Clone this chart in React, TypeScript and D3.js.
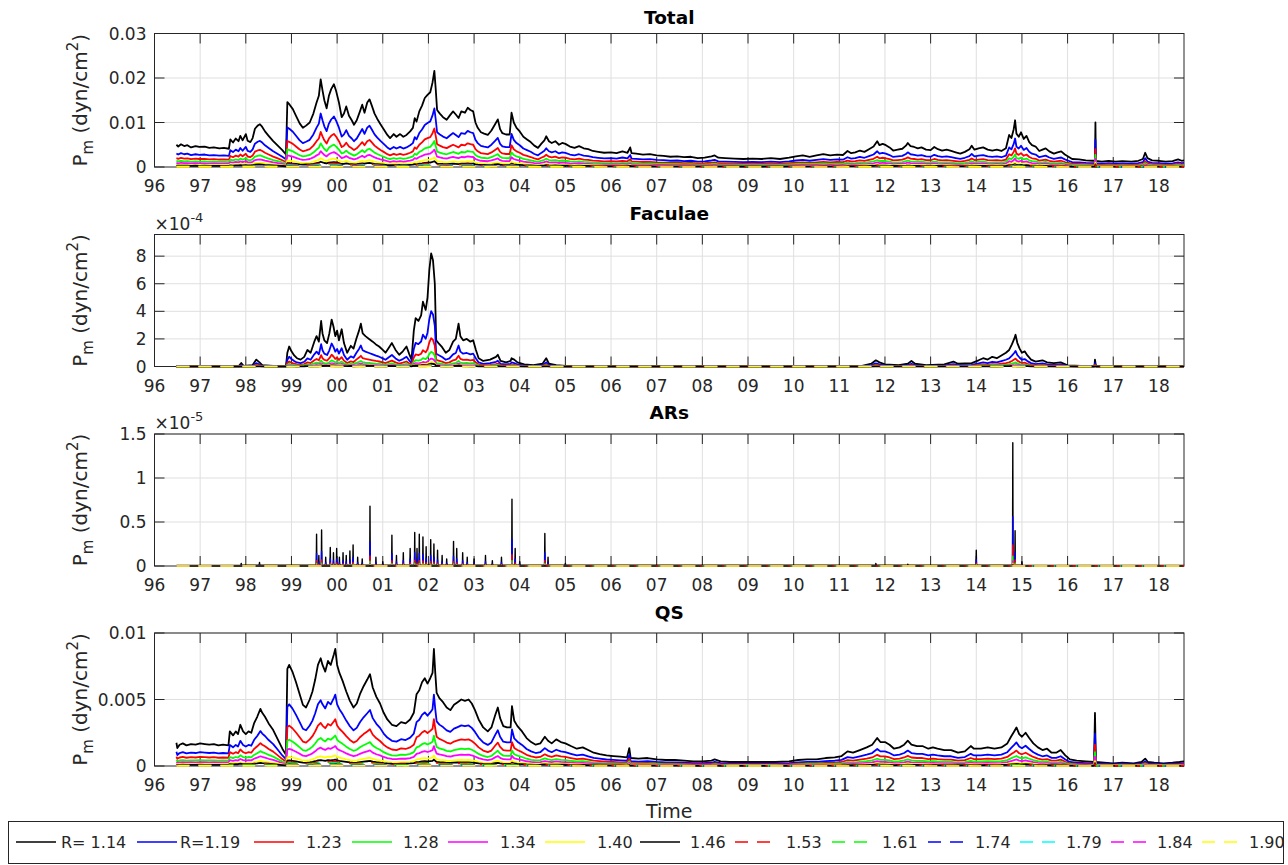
import React from "react";
import * as d3 from "d3";

// ---------------- data ----------------
const YEAR_TICKS = d3.range(1996, 2019);
const YEAR_LABELS = ["96","97","98","99","00","01","02","03","04","05","06","07","08","09","10","11","12","13","14","15","16","17","18"];
const X_DOMAIN: [number, number] = [1996, 2018.55];

const SERIES_LABELS = ["R= 1.14","R=1.19","1.23","1.28","1.34","1.40","1.46","1.53","1.61","1.74","1.79","1.84","1.90"];
const SERIES_COLORS = ["#000000","#0000ff","#ff0000","#00ff00","#ff00ff","#ffff00","#000000","#ff0000","#00ff00","#0000ff","#00ffff","#ff00ff","#ffff00"];
const SERIES_DASHED = [false,false,false,false,false,false,false,true,true,true,true,true,true];

// Ratios of each R-series to the R=1.14 series, read per panel
const TOTAL_RATIOS = [1, 0.61, 0.4, 0.27, 0.18, 0.1, 0.06, 0.045, 0.03, 0.018, 0.012, 0.008, 0.005];
const FACULAE_RATIOS = [1, 0.49, 0.25, 0.13, 0.07, 0.04, 0.025, 0.018, 0.012, 0.007, 0.005, 0.003, 0.002];
const ARS_RATIOS = [1, 0.4, 0.17, 0.08, 0.04, 0.02, 0.012, 0.008, 0.005, 0.003, 0.002, 0.001, 0.001];
const QS_RATIOS = [1, 0.61, 0.4, 0.26, 0.17, 0.09, 0.055, 0.04, 0.028, 0.016, 0.011, 0.007, 0.004];

// R=1.14 series, Total, units of 1e-3 dyn/cm^2
const TOTAL_BASE: [number, number][] = [[1996.48,5.0],[1996.52,4.6],[1996.58,5.1],[1996.65,4.7],[1996.72,4.9],[1996.8,4.4],[1996.9,4.7],[1996.98,4.5],[1997.1,4.6],[1997.2,4.3],[1997.3,4.4],[1997.42,4.2],[1997.52,4.3],[1997.63,4.1],[1997.66,6.2],[1997.72,5.5],[1997.78,6.4],[1997.84,5.8],[1997.88,7.0],[1997.93,6.0],[1998.0,7.4],[1998.04,5.9],[1998.1,5.6],[1998.15,6.5],[1998.2,8.6],[1998.26,9.3],[1998.31,9.6],[1998.36,9.0],[1998.42,8.0],[1998.5,7.0],[1998.6,5.8],[1998.7,4.8],[1998.8,3.8],[1998.88,2.8],[1998.91,14.6],[1998.96,14.0],[1999.03,13.0],[1999.1,11.5],[1999.18,9.8],[1999.25,8.8],[1999.32,9.3],[1999.4,10.0],[1999.48,12.0],[1999.55,14.5],[1999.6,16.0],[1999.64,19.7],[1999.68,17.2],[1999.72,15.0],[1999.77,13.2],[1999.82,16.0],[1999.87,17.5],[1999.93,18.6],[1999.98,17.0],[2000.04,14.5],[2000.1,11.2],[2000.15,12.0],[2000.2,13.6],[2000.26,11.5],[2000.32,10.5],[2000.37,9.5],[2000.43,10.5],[2000.5,12.5],[2000.55,14.0],[2000.6,12.2],[2000.66,14.5],[2000.71,15.2],[2000.76,13.8],[2000.82,12.0],[2000.88,10.8],[2000.95,9.6],[2001.02,8.5],[2001.1,7.2],[2001.16,6.5],[2001.24,7.4],[2001.3,6.8],[2001.38,7.4],[2001.45,6.8],[2001.52,7.2],[2001.6,8.0],[2001.66,8.8],[2001.7,11.0],[2001.74,10.2],[2001.8,12.5],[2001.86,13.8],[2001.92,15.5],[2001.98,16.2],[2002.04,16.8],[2002.09,19.0],[2002.13,21.6],[2002.16,17.5],[2002.19,12.8],[2002.25,12.0],[2002.32,11.2],[2002.4,10.6],[2002.47,11.6],[2002.54,12.5],[2002.6,11.8],[2002.66,11.0],[2002.72,12.5],[2002.8,12.2],[2002.86,13.3],[2002.92,12.8],[2002.98,12.5],[2003.03,10.0],[2003.08,8.8],[2003.15,7.8],[2003.22,7.5],[2003.3,7.2],[2003.38,8.2],[2003.46,9.6],[2003.52,10.7],[2003.57,8.5],[2003.62,7.6],[2003.7,7.3],[2003.78,7.3],[2003.82,12.2],[2003.87,10.0],[2003.93,8.8],[2004.0,8.0],[2004.08,6.8],[2004.16,6.2],[2004.24,5.6],[2004.32,4.8],[2004.4,4.3],[2004.47,5.2],[2004.54,6.0],[2004.58,6.9],[2004.64,5.8],[2004.7,5.4],[2004.78,5.8],[2004.86,5.0],[2004.93,5.4],[2005.0,5.2],[2005.1,4.6],[2005.2,4.3],[2005.3,4.7],[2005.4,4.2],[2005.5,4.0],[2005.6,3.6],[2005.72,3.4],[2005.85,3.2],[2006.0,3.3],[2006.12,3.1],[2006.25,3.5],[2006.36,3.2],[2006.42,4.4],[2006.45,3.1],[2006.55,3.0],[2006.7,2.8],[2006.85,2.9],[2007.0,2.6],[2007.15,2.5],[2007.3,2.3],[2007.45,2.4],[2007.6,2.2],[2007.75,2.3],[2007.9,2.0],[2008.05,2.1],[2008.2,2.4],[2008.27,2.6],[2008.35,2.1],[2008.5,2.0],[2008.7,1.9],[2008.9,1.8],[2009.1,1.9],[2009.3,1.8],[2009.5,2.0],[2009.7,1.8],[2009.9,2.1],[2010.05,2.4],[2010.2,2.6],[2010.35,2.3],[2010.5,2.6],[2010.65,2.9],[2010.8,2.6],[2010.95,2.8],[2011.08,2.7],[2011.18,3.6],[2011.26,3.1],[2011.35,3.3],[2011.45,3.7],[2011.55,3.4],[2011.65,4.0],[2011.75,4.6],[2011.83,5.8],[2011.88,4.9],[2011.95,5.2],[2012.02,4.9],[2012.1,4.4],[2012.18,3.7],[2012.28,3.9],[2012.38,4.1],[2012.46,4.8],[2012.5,5.4],[2012.56,4.7],[2012.64,4.5],[2012.72,4.2],[2012.8,4.4],[2012.9,3.9],[2013.0,3.8],[2013.08,4.5],[2013.16,4.0],[2013.25,3.7],[2013.35,3.9],[2013.45,3.6],[2013.55,3.3],[2013.65,3.0],[2013.75,3.4],[2013.85,4.0],[2013.9,4.8],[2013.96,3.9],[2014.05,4.2],[2014.15,4.4],[2014.25,3.9],[2014.35,3.7],[2014.45,3.9],[2014.55,3.6],[2014.65,4.2],[2014.72,7.2],[2014.77,6.5],[2014.82,8.5],[2014.85,10.5],[2014.88,7.5],[2014.93,6.8],[2014.98,7.8],[2015.04,6.3],[2015.1,7.0],[2015.16,5.6],[2015.22,4.9],[2015.3,4.6],[2015.38,3.6],[2015.45,3.9],[2015.52,4.2],[2015.6,3.5],[2015.7,3.0],[2015.78,3.3],[2015.86,3.5],[2015.94,2.8],[2016.02,2.3],[2016.1,1.8],[2016.25,1.7],[2016.4,1.5],[2016.55,1.4],[2016.6,1.4],[2016.61,10.0],[2016.62,1.4],[2016.75,1.2],[2016.9,1.4],[2017.05,1.2],[2017.2,1.3],[2017.4,1.2],[2017.55,1.4],[2017.65,1.8],[2017.7,3.2],[2017.75,2.0],[2017.85,1.5],[2018.0,1.4],[2018.15,1.2],[2018.3,1.3],[2018.42,1.7],[2018.5,1.4],[2018.55,1.5]];

// R=1.14 series, Faculae, units of 1e-4
const FACULAE_BASE: [number, number][] = [[1996.48,0.02],[1997.0,0.02],[1997.5,0.03],[1997.85,0.05],[1997.9,0.25],[1997.95,0.05],[1998.15,0.1],[1998.23,0.5],[1998.3,0.3],[1998.36,0.1],[1998.6,0.05],[1998.88,0.05],[1998.91,1.0],[1998.95,1.45],[1999.0,1.1],[1999.06,0.8],[1999.12,0.6],[1999.2,0.5],[1999.28,0.7],[1999.35,1.2],[1999.42,1.0],[1999.5,1.8],[1999.55,2.2],[1999.6,1.8],[1999.65,3.3],[1999.68,2.4],[1999.72,1.9],[1999.78,1.7],[1999.83,2.4],[1999.88,3.4],[1999.92,2.9],[1999.96,2.2],[2000.0,2.6],[2000.04,1.9],[2000.1,2.7],[2000.15,1.7],[2000.22,1.0],[2000.3,1.5],[2000.36,1.3],[2000.42,2.0],[2000.48,2.6],[2000.52,3.1],[2000.56,2.4],[2000.62,2.2],[2000.7,2.0],[2000.78,1.8],[2000.85,1.6],[2000.92,1.45],[2001.0,1.2],[2001.06,1.0],[2001.14,1.4],[2001.2,1.7],[2001.28,1.2],[2001.36,0.85],[2001.44,1.1],[2001.52,1.45],[2001.58,0.9],[2001.63,0.5],[2001.68,2.6],[2001.72,3.5],[2001.78,3.3],[2001.84,3.7],[2001.88,4.7],[2001.94,4.1],[2001.98,5.0],[2002.02,7.0],[2002.06,8.2],[2002.1,7.7],[2002.14,6.0],[2002.17,1.9],[2002.22,1.7],[2002.3,1.4],[2002.38,1.0],[2002.46,1.2],[2002.54,1.8],[2002.6,2.0],[2002.66,3.1],[2002.7,2.2],[2002.76,1.9],[2002.84,2.0],[2002.92,1.8],[2002.98,1.9],[2003.04,1.2],[2003.1,0.6],[2003.2,0.4],[2003.35,0.5],[2003.48,0.7],[2003.52,0.85],[2003.58,0.4],[2003.7,0.3],[2003.8,0.4],[2003.82,0.6],[2003.88,0.5],[2003.95,0.3],[2004.1,0.15],[2004.3,0.1],[2004.5,0.2],[2004.58,0.6],[2004.64,0.2],[2004.8,0.1],[2005.0,0.05],[2005.5,0.03],[2006.0,0.03],[2007.0,0.02],[2008.0,0.02],[2009.0,0.02],[2010.0,0.02],[2011.0,0.03],[2011.5,0.05],[2011.7,0.2],[2011.8,0.45],[2011.88,0.3],[2012.0,0.15],[2012.3,0.1],[2012.5,0.2],[2012.58,0.4],[2012.66,0.2],[2012.9,0.1],[2013.3,0.15],[2013.5,0.35],[2013.6,0.2],[2013.9,0.25],[2014.05,0.45],[2014.15,0.6],[2014.25,0.5],[2014.35,0.7],[2014.45,0.6],[2014.55,0.8],[2014.65,1.0],[2014.72,1.2],[2014.78,1.6],[2014.83,2.0],[2014.86,2.3],[2014.9,1.7],[2014.95,1.3],[2015.0,1.0],[2015.06,1.1],[2015.12,0.8],[2015.2,0.5],[2015.3,0.35],[2015.45,0.45],[2015.55,0.3],[2015.7,0.25],[2015.85,0.3],[2016.0,0.08],[2016.3,0.05],[2016.59,0.05],[2016.6,0.5],[2016.62,0.04],[2017.0,0.03],[2018.0,0.02],[2018.55,0.02]];

// R=1.14 series, ARs, spikes in units of 1e-5
const ARS_SPIKE_TIMES = [1997.9,1998.3,1999.55,1999.6,1999.66,1999.75,1999.85,1999.92,1999.99,2000.05,2000.13,2000.2,2000.28,2000.35,2000.45,2000.55,2000.72,2000.85,2001.0,2001.2,2001.3,2001.45,2001.6,2001.7,2001.75,2001.8,2001.88,2001.95,2002.05,2002.12,2002.2,2002.3,2002.4,2002.55,2002.62,2002.75,2002.85,2003.0,2003.25,2003.4,2003.6,2003.83,2003.9,2004.0,2004.55,2004.62,2005.0,2011.8,2012.5,2014.0,2014.8,2014.85,2015.0];
const ARS_SPIKE_VALUES = [0.03,0.04,0.36,0.12,0.41,0.1,0.21,0.15,0.2,0.1,0.15,0.12,0.17,0.24,0.1,0.08,0.68,0.1,0.05,0.35,0.12,0.15,0.2,0.38,0.2,0.36,0.33,0.22,0.3,0.25,0.18,0.12,0.08,0.28,0.2,0.15,0.1,0.08,0.12,0.06,0.1,0.76,0.2,0.05,0.37,0.1,0.03,0.03,0.02,0.18,1.4,0.4,0.05];

// R=1.14 series, QS, units of 1e-3
const QS_BASE: [number, number][] = [[1996.48,1.75],[1996.5,1.35],[1996.55,1.6],[1996.62,1.7],[1996.7,1.55],[1996.8,1.65],[1996.9,1.6],[1997.0,1.7],[1997.1,1.65],[1997.2,1.6],[1997.3,1.65],[1997.4,1.55],[1997.5,1.6],[1997.62,1.55],[1997.65,2.6],[1997.72,2.3],[1997.78,2.6],[1997.83,2.4],[1997.88,3.1],[1997.94,2.6],[1998.0,2.4],[1998.06,2.6],[1998.12,2.5],[1998.18,3.2],[1998.25,3.7],[1998.32,4.3],[1998.36,4.0],[1998.42,3.7],[1998.5,3.2],[1998.6,2.7],[1998.7,2.0],[1998.8,1.3],[1998.88,0.85],[1998.91,7.3],[1998.95,7.6],[1999.02,7.1],[1999.1,6.3],[1999.18,5.4],[1999.25,4.6],[1999.32,4.4],[1999.4,5.0],[1999.46,5.6],[1999.52,6.5],[1999.58,7.6],[1999.64,8.1],[1999.68,7.6],[1999.74,7.1],[1999.8,7.9],[1999.86,7.6],[1999.93,8.4],[1999.96,8.8],[2000.0,7.6],[2000.05,7.0],[2000.12,6.4],[2000.2,5.6],[2000.28,4.9],[2000.36,4.4],[2000.43,4.7],[2000.5,5.4],[2000.58,6.0],[2000.66,6.5],[2000.72,6.9],[2000.78,5.9],[2000.86,5.2],[2000.94,4.7],[2001.02,4.0],[2001.1,3.5],[2001.2,3.1],[2001.3,3.0],[2001.4,3.3],[2001.5,3.2],[2001.6,3.5],[2001.68,4.0],[2001.74,5.4],[2001.8,5.7],[2001.86,6.3],[2001.92,6.6],[2001.98,6.2],[2002.04,6.6],[2002.09,7.0],[2002.12,8.8],[2002.15,7.0],[2002.18,5.5],[2002.24,5.1],[2002.32,4.8],[2002.4,4.4],[2002.48,4.2],[2002.56,4.6],[2002.64,4.8],[2002.72,5.0],[2002.8,4.9],[2002.88,5.0],[2002.95,4.7],[2003.02,4.2],[2003.1,3.5],[2003.2,2.9],[2003.3,2.6],[2003.38,2.9],[2003.46,3.8],[2003.52,4.4],[2003.57,3.6],[2003.64,3.0],[2003.72,2.9],[2003.8,2.9],[2003.83,4.5],[2003.88,3.4],[2003.95,3.0],[2004.05,2.6],[2004.15,2.1],[2004.25,1.8],[2004.35,1.6],[2004.45,1.7],[2004.55,2.2],[2004.62,1.9],[2004.7,1.7],[2004.8,2.0],[2004.9,1.8],[2005.0,1.7],[2005.12,1.5],[2005.25,1.3],[2005.38,1.4],[2005.5,1.2],[2005.62,1.0],[2005.75,0.9],[2005.9,0.8],[2006.05,0.75],[2006.2,0.7],[2006.35,0.65],[2006.4,1.35],[2006.43,0.6],[2006.6,0.55],[2006.8,0.6],[2007.0,0.5],[2007.2,0.45],[2007.4,0.45],[2007.6,0.4],[2007.8,0.35],[2008.0,0.35],[2008.2,0.4],[2008.27,0.5],[2008.4,0.35],[2008.6,0.3],[2008.8,0.3],[2009.0,0.3],[2009.3,0.3],[2009.6,0.3],[2009.9,0.35],[2010.1,0.45],[2010.3,0.5],[2010.5,0.5],[2010.7,0.6],[2010.9,0.65],[2011.05,0.75],[2011.18,1.1],[2011.3,1.0],[2011.45,1.2],[2011.6,1.4],[2011.72,1.6],[2011.83,2.1],[2011.9,1.8],[2012.0,1.8],[2012.1,1.6],[2012.2,1.3],[2012.32,1.4],[2012.42,1.6],[2012.5,1.9],[2012.58,1.6],[2012.7,1.5],[2012.82,1.5],[2012.95,1.3],[2013.05,1.4],[2013.15,1.3],[2013.3,1.2],[2013.45,1.2],[2013.6,1.0],[2013.75,1.1],[2013.88,1.5],[2013.95,1.3],[2014.1,1.3],[2014.25,1.4],[2014.4,1.3],[2014.55,1.4],[2014.68,1.7],[2014.76,2.2],[2014.83,2.6],[2014.88,2.9],[2014.94,2.4],[2015.0,2.2],[2015.08,2.5],[2015.16,2.1],[2015.25,1.7],[2015.35,1.4],[2015.45,1.2],[2015.55,1.3],[2015.65,1.0],[2015.75,1.0],[2015.85,1.2],[2015.95,0.8],[2016.05,0.5],[2016.2,0.4],[2016.4,0.35],[2016.58,0.3],[2016.6,4.0],[2016.62,0.3],[2016.8,0.25],[2017.0,0.2],[2017.2,0.25],[2017.45,0.2],[2017.62,0.3],[2017.7,0.55],[2017.76,0.3],[2017.9,0.25],[2018.1,0.2],[2018.3,0.25],[2018.45,0.3],[2018.55,0.35]];

const TOTAL_TICKS = [0, 10, 20, 30];
const TOTAL_TICK_LABELS = ["0", "0.01", "0.02", "0.03"];
const FACULAE_TICKS = [0, 2, 4, 6, 8];
const FACULAE_TICK_LABELS = ["0", "2", "4", "6", "8"];
const ARS_TICKS = [0, 0.5, 1, 1.5];
const ARS_TICK_LABELS = ["0", "0.5", "1", "1.5"];
const QS_TICKS = [0, 5, 10];
const QS_TICK_LABELS = ["0", "0.005", "0.01"];

// ---------------- build ----------------
function spikesToSeries(times: number[], values: number[]): [number, number][] {
  const out: [number, number][] = [[1996.48, 0.005]];
  times.forEach((t, i) => {
    out.push([t - 0.006, 0.008], [t, values[i]], [t + 0.006, 0.008]);
  });
  out.push([2018.55, 0.005]);
  return out;
}

const PANELS = [
  { title: "Total", base: TOTAL_BASE, ratios: TOTAL_RATIOS, ymax: 30, ticks: TOTAL_TICKS, labels: TOTAL_TICK_LABELS, exp: null, top: 33.5, bottom: 167, titleY: 24 },
  { title: "Faculae", base: FACULAE_BASE, ratios: FACULAE_RATIOS, ymax: 9.57, ticks: FACULAE_TICKS, labels: FACULAE_TICK_LABELS, exp: "-4", top: 234.5, bottom: 366.5, titleY: 220 },
  { title: "ARs", base: spikesToSeries(ARS_SPIKE_TIMES, ARS_SPIKE_VALUES), ratios: ARS_RATIOS, ymax: 1.5, ticks: ARS_TICKS, labels: ARS_TICK_LABELS, exp: "-5", top: 434, bottom: 566, titleY: 419 },
  { title: "QS", base: QS_BASE, ratios: QS_RATIOS, ymax: 10, ticks: QS_TICKS, labels: QS_TICK_LABELS, exp: null, top: 633, bottom: 766, titleY: 619 },
];

const LEFT = 154.5;
const RIGHT = 1184;
const FONT = "'DejaVu Sans', sans-serif";
const TXT = "#262626";
const GRID = "#dfdfdf";
const DASH = "13,9";

const LEGEND_LINE_X = [16, 137, 254, 352, 448, 545, 640, 735, 832, 928, 1020, 1111, 1202];
const LEGEND_TEXT_X = [61, 180, 306, 403, 500, 597, 690, 786, 882, 975, 1066, 1157, 1249];

function Panel({ p, idx }: { p: any; idx: number }) {
  const x = d3.scaleLinear().domain(X_DOMAIN).range([LEFT, RIGHT]);
  const y = d3.scaleLinear().domain([0, p.ymax]).range([p.bottom, p.top]);
  const clipId = `clip${idx}`;
  const mid = (p.top + p.bottom) / 2;
  return (
    <g>
      <defs>
        <clipPath id={clipId}>
          <rect x={LEFT} y={p.top - 1} width={RIGHT - LEFT} height={p.bottom - p.top + 3} />
        </clipPath>
      </defs>
      <rect x={LEFT} y={p.top} width={RIGHT - LEFT} height={p.bottom - p.top} fill="#fff" />
      {/* grid */}
      {YEAR_TICKS.slice(1).map((t) => (
        <line key={"gx" + t} x1={x(t)} x2={x(t)} y1={p.top} y2={p.bottom} stroke={GRID} strokeWidth={1} />
      ))}
      {p.ticks.slice(1).map((t: number) => (
        <line key={"gy" + t} x1={LEFT} x2={RIGHT} y1={y(t)} y2={y(t)} stroke={GRID} strokeWidth={1} />
      ))}
      {/* axes box + ticks (beneath data, like MATLAB Layer 'bottom') */}
      <rect x={LEFT} y={p.top} width={RIGHT - LEFT} height={p.bottom - p.top} fill="none" stroke={TXT} strokeWidth={1} />
      {YEAR_TICKS.map((t) => (
        <g key={"xt" + t}>
          <line x1={x(t)} x2={x(t)} y1={p.bottom} y2={p.bottom - 10} stroke={TXT} />
          <line x1={x(t)} x2={x(t)} y1={p.top} y2={p.top + 10} stroke={TXT} />
        </g>
      ))}
      {p.ticks.map((t: number) => (
        <g key={"yt" + t}>
          <line x1={LEFT} x2={LEFT + 10} y1={y(t)} y2={y(t)} stroke={TXT} />
          <line x1={RIGHT} x2={RIGHT - 10} y1={y(t)} y2={y(t)} stroke={TXT} />
        </g>
      ))}
      {/* series */}
      <g clipPath={`url(#${clipId})`}>
        {SERIES_COLORS.map((c, k) => {
          const r = p.ratios[k];
          const line = d3
            .line<[number, number]>()
            .x((d) => x(d[0]))
            .y((d) => y(d[1] * r));
          return (
            <path
              key={k}
              d={line(p.base) || ""}
              fill="none"
              stroke={c}
              strokeWidth={idx === 2 ? 1.4 : SERIES_DASHED[k] ? 1.6 : 1.8}
              strokeDasharray={SERIES_DASHED[k] ? DASH : undefined}
              strokeLinejoin="round"
            />
          );
        })}
      </g>
      {/* tick labels */}
      {YEAR_TICKS.map((t, i) => (
        <text key={"xl" + t} x={x(t)} y={p.bottom + 25} textAnchor="middle" fontFamily={FONT} fontSize={17} fill={TXT}>
          {YEAR_LABELS[i]}
        </text>
      ))}
      {p.ticks.map((t: number, i: number) => (
        <text key={"yl" + t} x={LEFT - 8} y={y(t) + 6} textAnchor="end" fontFamily={FONT} fontSize={17} fill={TXT}>
          {p.labels[i]}
        </text>
      ))}
      {p.exp && (
        <text x={LEFT} y={p.top - 5} fontFamily={FONT} fontSize={17} fill={TXT}>
          ×10<tspan dy={-8} fontSize={13}>{p.exp}</tspan>
        </text>
      )}
      {/* title */}
      <text x={(LEFT + RIGHT) / 2} y={p.titleY} textAnchor="middle" fontFamily={FONT} fontSize={18.5} fontWeight="bold" fill="#000">
        {p.title}
      </text>
      {/* y label */}
      <text
        transform={`translate(87, ${mid}) rotate(-90)`}
        textAnchor="middle"
        fontFamily={FONT}
        fontSize={20}
        fill={TXT}
      >
        P<tspan dy={6} fontSize={15}>m</tspan>
        <tspan dy={-6}> (dyn/cm</tspan>
        <tspan dy={-9} fontSize={15}>2</tspan>
        <tspan dy={9}>)</tspan>
      </text>
    </g>
  );
}

export default function App() {
  return (
    <svg
      width={1288}
      height={865}
      style={{ position: "absolute", left: 0, top: 0, background: "#fff" }}
    >
      <rect x={0} y={0} width={1288} height={865} fill="#fff" />
      {PANELS.map((p, i) => (
        <Panel key={i} p={p} idx={i} />
      ))}
      <text x={(LEFT + RIGHT) / 2} y={818} textAnchor="middle" fontFamily={FONT} fontSize={19} fill={TXT}>
        Time
      </text>
      {/* legend */}
      <rect x={8.5} y={821.5} width={1275} height={42} fill="#fff" stroke={TXT} strokeWidth={1} />
      {SERIES_LABELS.map((lab, k) => (
        <g key={"lg" + k}>
          <line
            x1={LEGEND_LINE_X[k]}
            x2={LEGEND_LINE_X[k] + 40}
            y1={842}
            y2={842}
            stroke={SERIES_COLORS[k]}
            strokeWidth={1.5}
            strokeDasharray={SERIES_DASHED[k] ? DASH : undefined}
          />
          <text x={LEGEND_TEXT_X[k]} y={848} fontFamily={FONT} fontSize={16} fill={TXT}>
            {lab}
          </text>
        </g>
      ))}
    </svg>
  );
}
